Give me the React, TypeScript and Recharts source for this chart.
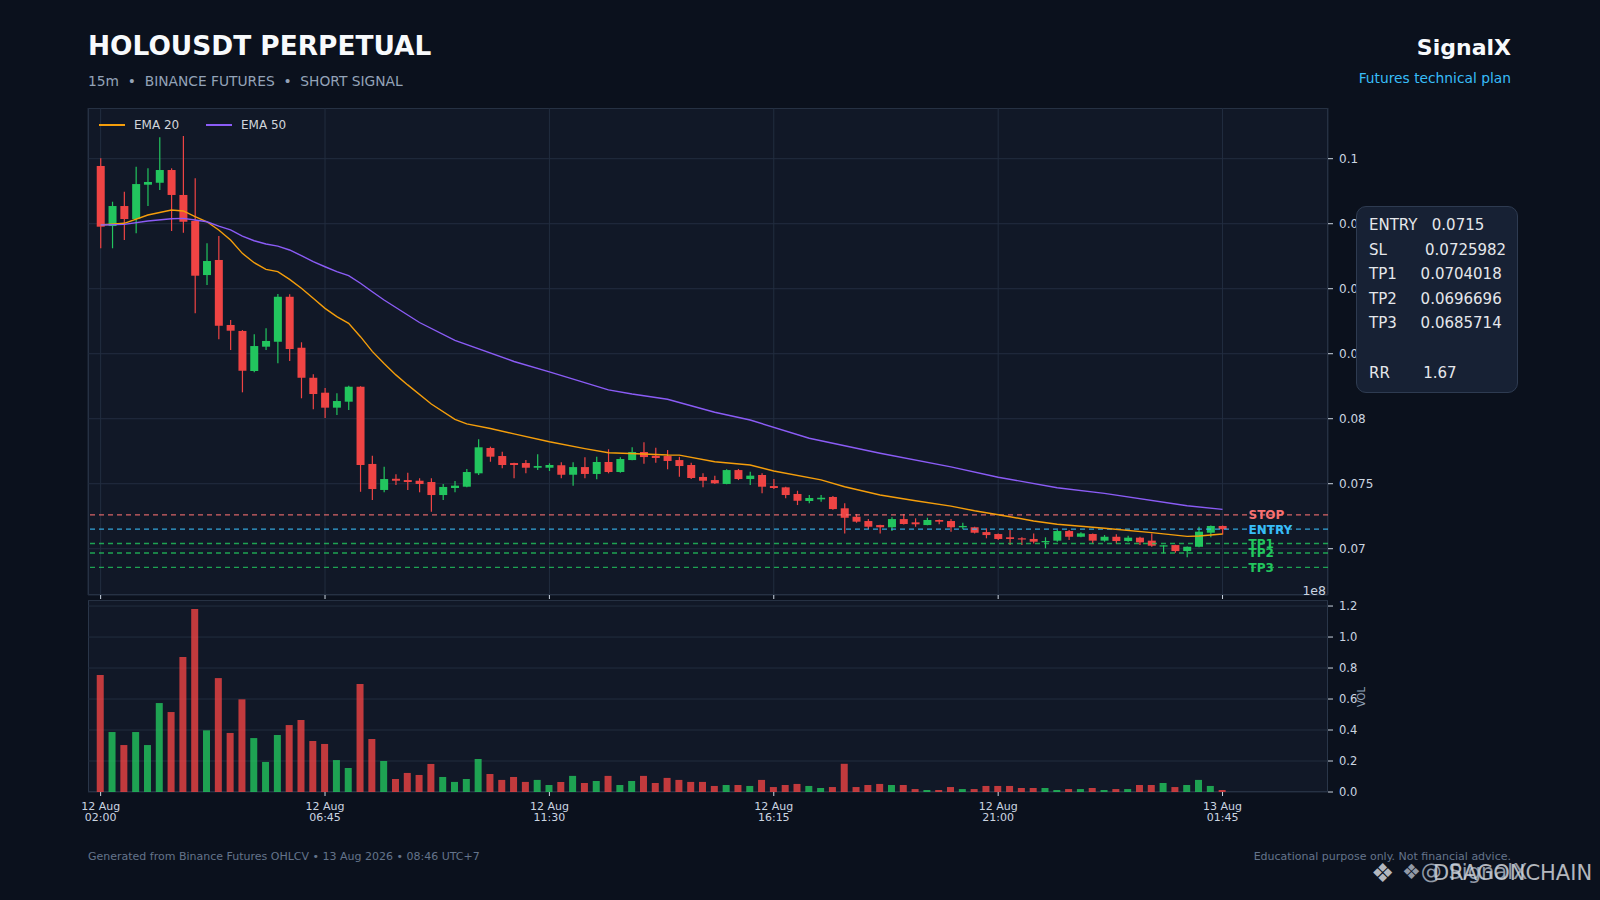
import React from "react";
import { ComposedChart, BarChart, Bar, Line, XAxis, YAxis, CartesianGrid, ReferenceLine, Cell } from "recharts";

// 15m candles, 12 Aug 02:00 -> 13 Aug 01:45
const OPEN = [
  0.09944, 0.09482, 0.09636, 0.09536, 0.098, 0.09815, 0.09913, 0.09721, 0.09521, 0.09105,
  0.09221, 0.08721, 0.08675, 0.08367, 0.08554, 0.08592, 0.08938, 0.08546, 0.08315, 0.082,
  0.08085, 0.08131, 0.08246, 0.07652, 0.07452, 0.07538, 0.07528, 0.07523, 0.07513, 0.07413,
  0.07467, 0.07477, 0.0758, 0.07775, 0.07713, 0.07659, 0.07659, 0.07623, 0.07623, 0.07642,
  0.07569, 0.07628, 0.07575, 0.07667, 0.0759, 0.07682, 0.07744, 0.07715, 0.07713, 0.07682,
  0.07644, 0.07552, 0.07528, 0.07498, 0.07605, 0.07536, 0.07567, 0.07482, 0.07472, 0.07421,
  0.07367, 0.0738, 0.07398, 0.07311, 0.07246, 0.07213, 0.07182, 0.07165, 0.07228, 0.07203,
  0.07182, 0.07221, 0.07213, 0.07165, 0.07165, 0.07128, 0.07113, 0.07088, 0.0708, 0.07075,
  0.07052, 0.07062, 0.07136, 0.07092, 0.07113, 0.07062, 0.07092, 0.07059, 0.07085, 0.07062,
  0.07018, 0.07028, 0.06982, 0.07015, 0.07123, 0.07175,
];
const HIGH = [
  0.10003, 0.09669, 0.09746, 0.09938, 0.09926, 0.10165, 0.09926, 0.10175, 0.09849, 0.09349,
  0.09405, 0.08759, 0.08682, 0.08649, 0.08695, 0.08959, 0.08957, 0.08588, 0.08342, 0.08236,
  0.08195, 0.08254, 0.0825, 0.07715, 0.07631, 0.07572, 0.07585, 0.07542, 0.07542, 0.07498,
  0.07521, 0.07613, 0.07842, 0.07785, 0.07746, 0.07662, 0.07682, 0.07726, 0.07657, 0.07665,
  0.07665, 0.07703, 0.07708, 0.07765, 0.07703, 0.0778, 0.07818, 0.07777, 0.07759, 0.07708,
  0.07662, 0.0758, 0.07562, 0.07611, 0.07613, 0.07592, 0.0758, 0.07536, 0.07477, 0.07446,
  0.07413, 0.07413, 0.07405, 0.07349, 0.07267, 0.07228, 0.07185, 0.07242, 0.07267, 0.07234,
  0.07238, 0.07224, 0.07228, 0.072, 0.07169, 0.07157, 0.07118, 0.07144, 0.07088, 0.07118,
  0.07088, 0.07144, 0.07144, 0.07126, 0.07118, 0.07105, 0.07111, 0.071, 0.07092, 0.07118,
  0.07026, 0.0703, 0.07018, 0.07169, 0.07178, 0.07178,
];
const LOW = [
  0.09311, 0.09311, 0.09375, 0.09426, 0.09636, 0.09759, 0.09444, 0.09431, 0.08811, 0.09028,
  0.08611, 0.08528, 0.08203, 0.08357, 0.08528, 0.08426, 0.08444, 0.08157, 0.08072, 0.08005,
  0.08028, 0.08067, 0.07438, 0.07375, 0.07434, 0.0749, 0.07452, 0.07434, 0.07285, 0.07375,
  0.07434, 0.07472, 0.07567, 0.07669, 0.07618, 0.07542, 0.0758, 0.07605, 0.07598, 0.07542,
  0.07485, 0.07542, 0.07534, 0.0758, 0.07585, 0.0768, 0.07654, 0.07662, 0.07611, 0.07554,
  0.07536, 0.07472, 0.07497, 0.07495, 0.07528, 0.0749, 0.07426, 0.07459, 0.07388, 0.07336,
  0.07349, 0.07362, 0.073, 0.07118, 0.072, 0.07152, 0.07118, 0.07136, 0.07186, 0.07169,
  0.0718, 0.07188, 0.07131, 0.07149, 0.07118, 0.0708, 0.07067, 0.07028, 0.07028, 0.07041,
  0.07003, 0.07054, 0.07067, 0.07088, 0.07041, 0.07054, 0.07041, 0.07054, 0.07028, 0.07015,
  0.06965, 0.06969, 0.06934, 0.07012, 0.07088, 0.0711,
];
const CLOSE = [
  0.09477, 0.09636, 0.09536, 0.09805, 0.09821, 0.09913, 0.09721, 0.09515, 0.091, 0.09213,
  0.08715, 0.08677, 0.08369, 0.08559, 0.08598, 0.08938, 0.08536, 0.08315, 0.0819, 0.08085,
  0.08136, 0.08246, 0.07644, 0.07459, 0.07536, 0.07523, 0.07513, 0.07498, 0.07413, 0.07475,
  0.07485, 0.0759, 0.0778, 0.07708, 0.07644, 0.07644, 0.07623, 0.07636, 0.07644, 0.07569,
  0.07628, 0.07575, 0.07667, 0.0759, 0.0769, 0.07744, 0.07705, 0.07698, 0.07675, 0.07636,
  0.07544, 0.07523, 0.07503, 0.07605, 0.07536, 0.07562, 0.07477, 0.07467, 0.07413, 0.07369,
  0.0739, 0.07392, 0.07305, 0.07238, 0.07208, 0.07169, 0.07165, 0.07228, 0.0719, 0.07188,
  0.07221, 0.07208, 0.07165, 0.07175, 0.07123, 0.07105, 0.07075, 0.07075, 0.07072, 0.07054,
  0.07059, 0.07136, 0.07092, 0.07118, 0.07062, 0.07092, 0.07059, 0.07085, 0.07049, 0.07023,
  0.07026, 0.06982, 0.07015, 0.07131, 0.07175, 0.0715,
];
// volume in units of 1e8
const VOLUME = [
  0.755, 0.387, 0.303, 0.387, 0.303, 0.574, 0.516, 0.871, 1.181, 0.398,
  0.735, 0.381, 0.598, 0.348, 0.194, 0.368, 0.432, 0.465, 0.329, 0.31,
  0.206, 0.155, 0.697, 0.342, 0.2, 0.084, 0.123, 0.11, 0.181, 0.097,
  0.065, 0.084, 0.213, 0.116, 0.078, 0.097, 0.065, 0.078, 0.045, 0.065,
  0.104, 0.058, 0.071, 0.104, 0.045, 0.071, 0.104, 0.058, 0.091, 0.078,
  0.065, 0.065, 0.039, 0.045, 0.045, 0.039, 0.078, 0.032, 0.045, 0.052,
  0.039, 0.026, 0.032, 0.182, 0.032, 0.045, 0.052, 0.045, 0.045, 0.019,
  0.013, 0.013, 0.032, 0.019, 0.019, 0.039, 0.039, 0.039, 0.026, 0.026,
  0.026, 0.013, 0.019, 0.019, 0.026, 0.013, 0.019, 0.019, 0.045, 0.045,
  0.058, 0.032, 0.045, 0.078, 0.039, 0.013,
];

const EMA20_IDX = [0, 2, 4, 6, 7, 8, 9, 10, 11, 12, 13, 14, 15, 16, 17, 18, 19, 20, 21, 22, 23, 24, 25, 26, 28, 30, 31, 33, 35, 38, 41, 43, 46, 48, 49, 52, 55, 57, 61, 63, 66, 69, 72, 74, 77, 79, 81, 85, 89, 92, 93, 95];
const EMA20_VAL = [
  0.0949, 0.09503, 0.09567, 0.09605, 0.09598, 0.09554, 0.09515, 0.09452, 0.09375, 0.09272,
  0.092, 0.09149, 0.09131, 0.09072, 0.09003, 0.08926, 0.08849, 0.08785, 0.08734, 0.08631,
  0.08518, 0.08424, 0.08337, 0.0826, 0.08113, 0.07995, 0.0796, 0.07925, 0.07883, 0.07823,
  0.0777, 0.07738, 0.07729, 0.07721, 0.0772, 0.07669, 0.07644, 0.07598, 0.0753, 0.07477,
  0.07413, 0.07369, 0.07328, 0.07292, 0.07246, 0.07213, 0.07188, 0.07157, 0.07124, 0.07095,
  0.07098, 0.07113,
];
const EMA50_IDX = [0, 2, 4, 6, 7, 8, 9, 10, 11, 12, 13, 14, 15, 16, 17, 18, 19, 20, 21, 22, 23, 24, 27, 30, 35, 38, 43, 45, 48, 52, 55, 60, 66, 72, 76, 81, 85, 92, 95];
const EMA50_VAL = [
  0.0949, 0.09495, 0.09521, 0.09538, 0.09541, 0.09528, 0.09515, 0.09482, 0.09452, 0.09405,
  0.09369, 0.09344, 0.09328, 0.09298, 0.09254, 0.09208, 0.09169, 0.09131, 0.091, 0.09042,
  0.08977, 0.08913, 0.0874, 0.08603, 0.0844, 0.0836, 0.08222, 0.0819, 0.0815, 0.0805,
  0.0799, 0.0785, 0.07734, 0.0763, 0.0755, 0.07469, 0.07426, 0.0733, 0.07303,
];

const X_TICKS = [0, 19, 38, 57, 76, 95];
const X_TICK_DATES = ["12 Aug", "12 Aug", "12 Aug", "12 Aug", "12 Aug", "13 Aug"];
const X_TICK_TIMES = ["02:00", "06:45", "11:30", "16:15", "21:00", "01:45"];
const PRICE_TICKS = [0.07, 0.075, 0.08, 0.085, 0.09, 0.095, 0.1];
const VOL_TICKS = [0, 0.2, 0.4, 0.6, 0.8, 1.0, 1.2];

const ENTRY = 0.0715;
const STOP = 0.0725982;
const TP1 = 0.0704018;
const TP2 = 0.0696696;
const TP3 = 0.0685714;
const RR = 1.67;

const X_MIN = -1.07;
const X_MAX = 103.93;
const LABEL_AT = 97.2;

const GREEN = "#22c55e";
const RED = "#ef4444";
const GRID = "#222d3f";
const TEXT = "#cbd5e1";
const PAD = 40; // room left of the plots so the first time label is not clipped

const e20 = new Map(EMA20_IDX.map((k, j) => [k, EMA20_VAL[j]]));
const e50 = new Map(EMA50_IDX.map((k, j) => [k, EMA50_VAL[j]]));

const rows = OPEN.map((o, i) => ({
  i,
  o,
  h: HIGH[i],
  l: LOW[i],
  c: CLOSE[i],
  v: VOLUME[i],
  e20: e20.get(i),
  e50: e50.get(i),
}));

const Candle = (props: any) => {
  const { x, y, width, height, payload } = props;
  if (x == null || !payload) return null;
  const top = Math.min(y, y + height);
  const bot = Math.max(y, y + height);
  const py = (v: number) => top + ((payload.h - v) / (payload.h - payload.l)) * (bot - top);
  const col = payload.c >= payload.o ? GREEN : RED;
  const cx = x + width / 2;
  const bTop = py(Math.max(payload.o, payload.c));
  const bBot = py(Math.min(payload.o, payload.c));
  return (
    <g>
      <line x1={cx} x2={cx} y1={top} y2={bot} stroke={col} strokeWidth={1.2} />
      <rect x={x} y={bTop} width={width} height={Math.max(bBot - bTop, 1.2)} fill={col} />
    </g>
  );
};

const levelLabel = (text: string, color: string) => (props: any) => {
  const vb = props.viewBox;
  if (!vb) return null;
  const x = vb.x + ((LABEL_AT - X_MIN) / (X_MAX - X_MIN)) * vb.width;
  return (
    <text x={x} y={vb.y} dy="0.36em" fill={color} fontSize={12} fontWeight="bold" fontFamily="DejaVu Sans">
      {text}
    </text>
  );
};

const TimeTick = (props: any) => {
  const { x, y, payload } = props;
  const k = X_TICKS.indexOf(payload.value);
  if (k < 0) return null;
  return (
    <g fontFamily="DejaVu Sans" fontSize={11} fill={TEXT}>
      <text x={x} y={y + 12} textAnchor="middle">{X_TICK_DATES[k]}</text>
      <text x={x} y={y + 23} textAnchor="middle">{X_TICK_TIMES[k]}</text>
    </g>
  );
};

const abs = (left: number, top: number, extra: React.CSSProperties = {}): React.CSSProperties => ({
  position: "absolute",
  left,
  top,
  lineHeight: 1,
  whiteSpace: "pre",
  ...extra,
});

const INFO_LINES = [
  `ENTRY   ${ENTRY}`,
  `SL        ${STOP}`,
  `TP1     ${TP1}`,
  `TP2     ${TP2}`,
  `TP3     ${TP3}`,
  ``,
  `RR       ${RR}`,
];

export default function App() {
  return (
    <div
      style={{
        position: "fixed",
        left: 0,
        top: 0,
        width: 1600,
        height: 900,
        background: "#0b111d",
        fontFamily: "DejaVu Sans",
        overflow: "hidden",
      }}
    >
      <div style={abs(88, 33, { fontSize: 26.4, fontWeight: "bold", color: "#f8fafc" })}>HOLOUSDT PERPETUAL</div>
      <div style={abs(88, 75, { fontSize: 13.8, color: "#94a3b8" })}>15m  •  BINANCE FUTURES  •  SHORT SIGNAL</div>
      <div style={abs(0, 37, { right: 89, left: "auto", fontSize: 22, fontWeight: "bold", color: "#f8fafc" })}>SignalX</div>
      <div style={abs(0, 72, { right: 89, left: "auto", fontSize: 13.8, color: "#38bdf8" })}>Futures technical plan</div>

      {/* panel faces */}
      <div style={{ position: "absolute", left: 88, top: 108, width: 1240, height: 487, background: "#111827", border: "1px solid #2a3649", boxSizing: "border-box" }} />
      <div style={{ position: "absolute", left: 88, top: 600, width: 1240, height: 192, background: "#111827", border: "1px solid #2a3649", boxSizing: "border-box" }} />

      <div style={{ position: "absolute", left: 88 - PAD, top: 108 }}>
        <ComposedChart width={1300 + PAD} height={493} data={rows} margin={{ top: 0, right: 0, bottom: 0, left: PAD }}>
          <CartesianGrid stroke={GRID} strokeWidth={1} />
          <XAxis
            dataKey="i"
            type="number"
            domain={[X_MIN, X_MAX]}
            ticks={X_TICKS}
            allowDataOverflow
            height={6}
            axisLine={false}
            tickLine={{ stroke: TEXT }}
            tickSize={4}
            tick={() => <g />}
          />
          <YAxis
            orientation="right"
            width={60}
            domain={[0.06644, 0.1039]}
            ticks={PRICE_TICKS}
            allowDataOverflow
            axisLine={false}
            tickLine={{ stroke: TEXT }}
            tickSize={5}
            tickMargin={6}
            tick={{ fill: TEXT, fontSize: 12, fontFamily: "DejaVu Sans" }}
            tickFormatter={(v: number) => String(parseFloat(v.toFixed(3)))}
          />
          <ReferenceLine y={STOP} stroke="#f87171" strokeOpacity={0.85} strokeDasharray="5 4" strokeWidth={1.3} label={levelLabel("STOP", "#f87171")} />
          <ReferenceLine y={ENTRY} stroke="#38bdf8" strokeOpacity={0.85} strokeDasharray="5 4" strokeWidth={1.3} label={levelLabel("ENTRY", "#38bdf8")} />
          <ReferenceLine y={TP1} stroke={GREEN} strokeOpacity={0.8} strokeDasharray="5 4" strokeWidth={1.3} label={levelLabel("TP1", GREEN)} />
          <ReferenceLine y={TP2} stroke={GREEN} strokeOpacity={0.8} strokeDasharray="5 4" strokeWidth={1.3} label={levelLabel("TP2", GREEN)} />
          <ReferenceLine y={TP3} stroke={GREEN} strokeOpacity={0.8} strokeDasharray="5 4" strokeWidth={1.3} label={levelLabel("TP3", GREEN)} />
          <Bar dataKey={(d: any) => [d.l, d.h]} barSize={8} shape={Candle} isAnimationActive={false} />
          <Line dataKey="e20" type="linear" stroke="#f59e0b" strokeWidth={1.4} dot={false} connectNulls isAnimationActive={false} />
          <Line dataKey="e50" type="linear" stroke="#8b5cf6" strokeWidth={1.4} dot={false} connectNulls isAnimationActive={false} />
        </ComposedChart>
      </div>

      <div style={{ position: "absolute", left: 88 - PAD, top: 600 }}>
        <BarChart width={1300 + PAD} height={226} data={rows} margin={{ top: 0, right: 0, bottom: 0, left: PAD }}>
          <CartesianGrid stroke={GRID} vertical={false} />
          <XAxis
            dataKey="i"
            type="number"
            domain={[X_MIN, X_MAX]}
            ticks={X_TICKS}
            allowDataOverflow
            height={34}
            axisLine={false}
            tickLine={{ stroke: TEXT }}
            tickSize={4}
            tickMargin={2}
            tick={TimeTick}
          />
          <YAxis
            orientation="right"
            width={60}
            domain={[0, 1.239]}
            ticks={VOL_TICKS}
            allowDataOverflow
            axisLine={false}
            tickLine={{ stroke: TEXT }}
            tickSize={5}
            tickMargin={6}
            tick={{ fill: TEXT, fontSize: 11.5, fontFamily: "DejaVu Sans" }}
            tickFormatter={(v: number) => v.toFixed(1)}
          />
          <Bar dataKey="v" barSize={7} isAnimationActive={false}>
            {rows.map((r) => (
              <Cell key={r.i} fill={r.c >= r.o ? GREEN : RED} fillOpacity={0.8} />
            ))}
          </Bar>
        </BarChart>
      </div>

      {/* legend */}
      <div style={{ position: "absolute", left: 99, top: 124, width: 26, height: 1.6, background: "#f59e0b" }} />
      <div style={abs(134, 119, { fontSize: 12, color: "#d1d5db" })}>EMA 20</div>
      <div style={{ position: "absolute", left: 206, top: 124, width: 26, height: 1.6, background: "#8b5cf6" }} />
      <div style={abs(241, 119, { fontSize: 12, color: "#d1d5db" })}>EMA 50</div>

      <div style={abs(0, 585, { right: 274, left: "auto", fontSize: 12.5, color: TEXT })}>1e8</div>
      <div style={abs(1352, 692, { fontSize: 10, color: "#94a3b8", transform: "rotate(-90deg)", transformOrigin: "center" })}>VOL</div>

      {/* signal box */}
      <div
        style={{
          position: "absolute",
          left: 1356,
          top: 206,
          width: 162,
          height: 187,
          boxSizing: "border-box",
          padding: "6px 0 0 12px",
          borderRadius: 10,
          background: "#172134",
          border: "1px solid #2e3b51",
          color: "#e5e7eb",
          fontSize: 15,
          lineHeight: "24.6px",
          whiteSpace: "pre",
        }}
      >
        {INFO_LINES.map((t, k) => (
          <div key={k} style={{ height: 24.6 }}>{t}</div>
        ))}
      </div>

      <div style={abs(88, 851, { fontSize: 11, color: "#64748b" })}>
        Generated from Binance Futures OHLCV • 13 Aug 2026 • 08:46 UTC+7
      </div>
      <div style={abs(0, 851, { right: 89, left: "auto", fontSize: 11, color: "#64748b" })}>
        Educational purpose only. Not financial advice.
      </div>

      {/* watermark: two overlapping stamps */}
      <div style={abs(1371, 860, { fontSize: 26, color: "#d1d5db", opacity: 0.85 })}>❖</div>
      <div style={abs(1433, 863, { fontSize: 21, color: "#d1d5db", opacity: 0.85 })}>DRAGONCHAIN</div>
      <div style={abs(1402, 862, { fontSize: 21, color: "#cbd5e1", opacity: 0.7 })}>❖@ SignalX</div>
    </div>
  );
}
